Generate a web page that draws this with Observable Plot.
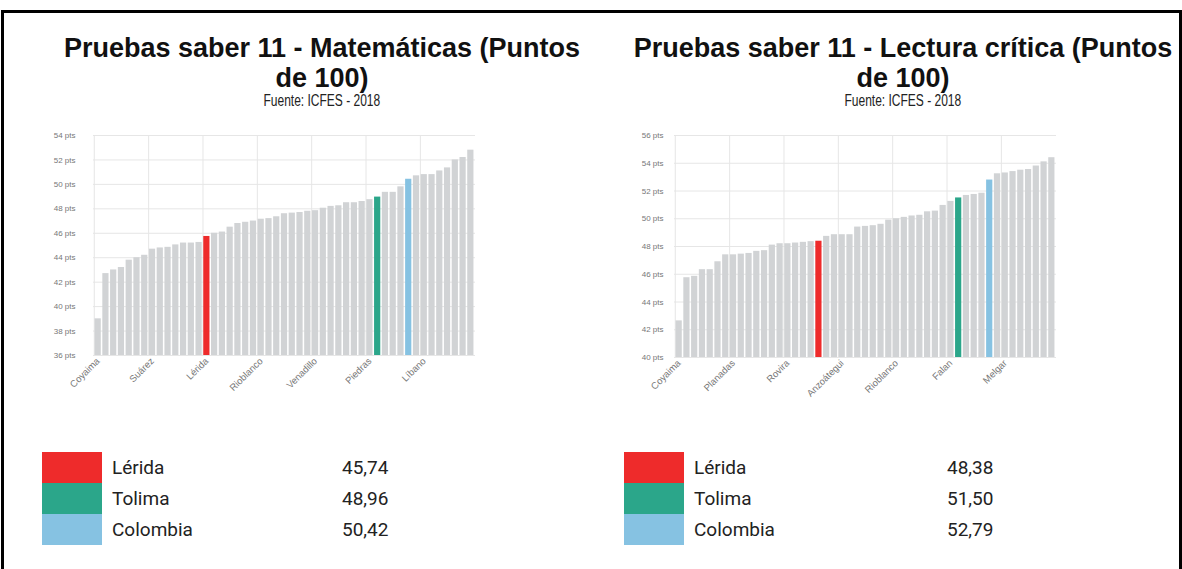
<!DOCTYPE html>
<html><head><meta charset="utf-8">
<script src="https://cdn.jsdelivr.net/npm/d3@7"></script>
<script src="https://cdn.jsdelivr.net/npm/@observablehq/plot@0.6"></script>
<style>
html,body{margin:0;padding:0;background:#fff;}
body{width:1182px;height:569px;position:relative;overflow:hidden;font-family:"Liberation Sans",Arial,sans-serif;}
#frame{position:absolute;left:1px;top:10px;width:1175px;height:570px;border:3px solid #000;border-bottom:none;}
.title{position:absolute;text-align:center;font-weight:bold;font-size:27px;line-height:30px;color:#111;}
.sub{position:absolute;text-align:center;font-size:16px;line-height:18px;color:#222;}
.sub span{display:inline-block;transform:scaleX(0.75);}
.chart{position:absolute;}
.legend{position:absolute;font-family:Roboto,"Liberation Sans",sans-serif;font-size:19px;color:#222;}
.row{position:relative;height:31px;}
.sw{position:absolute;left:0;top:0;width:60px;height:31px;}
.lab{position:absolute;top:0;line-height:31px;}
</style></head>
<body>
<div id="frame"></div>
<div class="title" style="left:40px;top:33px;width:564px">Pruebas saber 11 - Matemáticas (Puntos<br>de 100)</div>
<div class="sub" style="left:40px;top:92px;width:564px"><span>Fuente: ICFES - 2018</span></div>
<div class="title" style="left:624px;top:33px;width:558px">Pruebas saber 11 - Lectura crítica (Puntos<br>de 100)</div>
<div class="sub" style="left:624px;top:92px;width:558px"><span>Fuente: ICFES - 2018</span></div>
<div id="c1" class="chart" style="left:40px;top:125px"></div>
<div id="c2" class="chart" style="left:622px;top:125px"></div>
<div id="l1" class="legend" style="left:42px;top:452px;width:450px"></div>
<div id="l2" class="legend" style="left:624px;top:452px;width:450px"></div>
<script>
// ---- data ----
const highlightNames = ["Lérida", "Tolima", "Colombia"];
const highlightColors = ["#ee2b2b", "#2ba68a", "#86c2e2"];
const barGray = "#d1d3d5";

const mathValues = [39.0, 42.7, 43.0, 43.2, 43.8, 44.0, 44.2, 44.7, 44.8, 44.85, 45.05, 45.2, 45.2, 45.25, 45.74, 46.0, 46.1, 46.5, 46.8, 46.9, 47.0, 47.15, 47.2, 47.35, 47.6, 47.65, 47.7, 47.8, 47.85, 48.05, 48.2, 48.25, 48.5, 48.5, 48.6, 48.75, 48.96, 49.35, 49.35, 49.8, 50.42, 50.7, 50.8, 50.8, 51.1, 51.35, 52.0, 52.2, 52.8];
const mathHighlightIdx = [14, 36, 40];
const mathHighlightValues = ["45,74", "48,96", "50,42"];
const mathTickLabels = ["Coyaima", "Suárez", "Lérida", "Rioblanco", "Venadillo", "Piedras", "Líbano"];
const mathYTicks = [36, 38, 40, 42, 44, 46, 48, 50, 52, 54];

const readValues = [42.64, 45.75, 45.85, 46.33, 46.33, 46.9, 47.4, 47.4, 47.45, 47.5, 47.65, 47.7, 48.1, 48.2, 48.2, 48.25, 48.3, 48.35, 48.38, 48.73, 48.85, 48.85, 48.85, 49.4, 49.45, 49.5, 49.6, 49.9, 50.0, 50.1, 50.2, 50.25, 50.5, 50.55, 50.96, 51.25, 51.50, 51.68, 51.75, 51.84, 52.79, 53.24, 53.3, 53.4, 53.5, 53.55, 53.8, 54.1, 54.4];
const readHighlightIdx = [18, 36, 40];
const readHighlightValues = ["48,38", "51,50", "52,79"];
const readTickLabels = ["Coyaima", "Planadas", "Rovira", "Anzoátegui", "Rioblanco", "Falan", "Melgar"];
const readYTicks = [40, 42, 44, 46, 48, 50, 52, 54, 56];

const labelEvery = 7;

function chart(values, hiIdx, labels, yTicks, o) {
  const n = values.length;
  const rows = values.map((v, i) => {
    const k = hiIdx.indexOf(i);
    return {i, v, c: k >= 0 ? highlightColors[k] : barGray};
  });
  const tickIdx = labels.map((_, k) => k * labelEvery);
  const width = 450, height = 300, pad = 0.2;
  const step = (width - o.ml - o.mr) / (n + pad);
  return Plot.plot({
    width, height,
    marginLeft: o.ml, marginRight: o.mr, marginTop: o.mt, marginBottom: o.mb,
    style: {fontFamily: "'Liberation Sans', Arial, sans-serif", background: "transparent"},
    x: {type: "band", domain: d3.range(n), padding: pad, axis: null},
    y: {domain: [yTicks[0], yTicks[yTicks.length - 1]], axis: null},
    color: {type: "identity"},
    marks: [
      Plot.gridY(yTicks, {stroke: "#e6e6e6", strokeOpacity: 1}),
      Plot.gridX(tickIdx, {stroke: "#e6e6e6", strokeOpacity: 1, dx: -step / 2}),
      Plot.barY(rows, {x: "i", y1: yTicks[0], y2: "v", fill: "c"}),
      Plot.axisY(yTicks, {label: null, tickSize: 0, tickPadding: o.yPad, tickFormat: d => `${d} pts`, fill: "#777", fontSize: 8}),
      Plot.axisX(tickIdx, {label: null, tickSize: 0, tickPadding: 4, tickRotate: -45, tickFormat: i => labels[i / labelEvery], fill: "#777", fontSize: 9.5})
    ]
  });
}

function legend(el, vals, vx) {
  highlightNames.forEach((name, k) => {
    const r = document.createElement("div");
    r.className = "row";
    r.innerHTML = `<div class="sw" style="background:${highlightColors[k]}"></div><div class="lab" style="left:70px">${name}</div><div class="lab" style="left:${vx}px">${vals[k]}</div>`;
    el.appendChild(r);
  });
}

document.getElementById("c1").appendChild(chart(mathValues, mathHighlightIdx, mathTickLabels, mathYTicks, {ml: 53, mr: 15, mt: 10, mb: 70, yPad: 18}));
document.getElementById("c2").appendChild(chart(readValues, readHighlightIdx, readTickLabels, readYTicks, {ml: 52, mr: 16, mt: 10, mb: 68, yPad: 11}));
legend(document.getElementById("l1"), mathHighlightValues, 300);
legend(document.getElementById("l2"), readHighlightValues, 323);
</script>
</body></html>
